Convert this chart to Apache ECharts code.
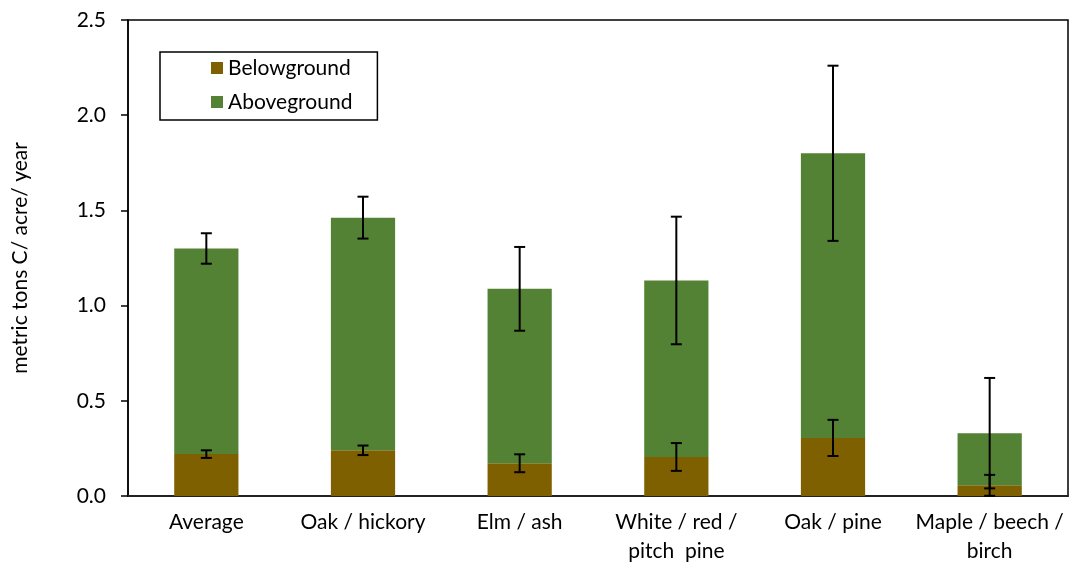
<!DOCTYPE html>
<html>
<head>
<meta charset="utf-8">
<script src="https://cdn.jsdelivr.net/npm/echarts@6/dist/echarts.min.js"></script>
<style>html,body{margin:0;padding:0;background:#fff}#c{width:1070px;height:567px}</style>
</head>
<body>
<div id="c"></div>
<script>
const categories = ['Average', 'Oak / hickory', 'Elm / ash', 'White / red /\npitch  pine', 'Oak / pine', 'Maple / beech /\nbirch'];
const belowground = [0.22, 0.24, 0.172, 0.205, 0.305, 0.056];
const aboveground = [1.08, 1.222, 0.916, 0.927, 1.495, 0.274];
const totalError = [0.08, 0.11, 0.22, 0.335, 0.46, 0.29];
const belowError = [0.02, 0.025, 0.047, 0.073, 0.095, 0.055];
const yTicks = [0, 0.5, 1.0, 1.5, 2.0, 2.5];

const errData = [];
categories.forEach((c, i) => {
  errData.push([i, belowground[i], belowError[i]]);
  errData.push([i, belowground[i] + aboveground[i], totalError[i]]);
});

const FONT = 'Lato';
const chart = echarts.init(document.getElementById('c'));
chart.setOption({
  animation: false,
  textStyle: { fontFamily: FONT },
  grid: { left: 128, right: 2, top: 20, bottom: 71, show: true, borderColor: '#000', borderWidth: 1.5, backgroundColor: 'transparent' },
  legend: {
    left: 160, top: 52, orient: 'vertical',
    data: ['Belowground', 'Aboveground'],
    borderColor: '#000', borderWidth: 1.5,
    padding: [5, 25, 7, 51],
    itemWidth: 12, itemHeight: 12, itemGap: 12,
    icon: 'rect',
    textStyle: { fontFamily: FONT, fontSize: 21, color: '#000', lineHeight: 22 }
  },
  xAxis: {
    type: 'category', data: categories,
    axisLine: { lineStyle: { color: '#222', width: 2 } },
    axisTick: { show: false },
    axisLabel: { fontFamily: FONT, fontSize: 21, color: '#000', margin: 12, lineHeight: 29, interval: 0 }
  },
  yAxis: {
    type: 'value', min: 0, max: 2.5, interval: 0.5,
    name: 'metric tons C/ acre/ year', nameLocation: 'middle', nameGap: 97, nameRotate: 90,
    nameTextStyle: { fontFamily: FONT, fontSize: 21, color: '#000' },
    axisLine: { show: true, lineStyle: { color: '#000', width: 1.5 } },
    axisTick: { show: true, length: 7, lineStyle: { color: '#000', width: 1.5 } },
    splitLine: { show: false },
    axisLabel: { fontFamily: FONT, fontSize: 21, color: '#000', margin: 22,
      formatter: v => yTicks.includes(v) ? v.toFixed(1) : '' }
  },
  series: [
    { name: 'Belowground', type: 'bar', stack: 't', data: belowground, barWidth: '41%', itemStyle: { color: '#7F6000' } },
    { name: 'Aboveground', type: 'bar', stack: 't', data: aboveground, barWidth: '41%', itemStyle: { color: '#548235' } },
    {
      type: 'custom', z: 10, data: errData,
      renderItem: function (params, api) {
        const x = api.value(0), c = api.value(1), e = api.value(2);
        const top = api.coord([x, c + e]);
        const bot = api.coord([x, c - e]);
        const hw = 5.5;
        const st = { stroke: '#000', lineWidth: 2 };
        return { type: 'group', children: [
          { type: 'line', shape: { x1: top[0], y1: top[1], x2: bot[0], y2: bot[1] }, style: st },
          { type: 'line', shape: { x1: top[0] - hw, y1: top[1], x2: top[0] + hw, y2: top[1] }, style: st },
          { type: 'line', shape: { x1: bot[0] - hw, y1: bot[1], x2: bot[0] + hw, y2: bot[1] }, style: st }
        ] };
      }
    }
  ]
});
</script>
</body>
</html>
